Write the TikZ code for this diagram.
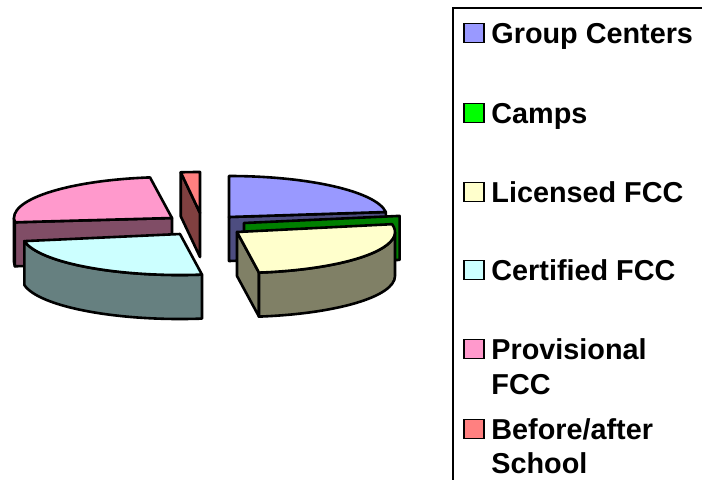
\documentclass[tikz,border=0pt]{standalone}
\usepackage{fontspec}
\setmainfont{Liberation Sans}
\usetikzlibrary{positioning,calc}

\definecolor{gcTop}{HTML}{9999FF}
\definecolor{gcSide}{HTML}{4D4D80}
\definecolor{campTop}{HTML}{00FF00}
\definecolor{campSide}{HTML}{008000}
\definecolor{licTop}{HTML}{FFFFCC}
\definecolor{licSide}{HTML}{808066}
\definecolor{certTop}{HTML}{CCFFFF}
\definecolor{certSide}{HTML}{668080}
\definecolor{provTop}{HTML}{FF99CC}
\definecolor{provSide}{HTML}{804D66}
\definecolor{basTop}{HTML}{FF8080}
\definecolor{basSide}{HTML}{804040}

\tikzset{
  piepart/.style={draw=black, line width=1.3pt, line join=round},
  swatch/.style={draw=black, line width=0.8pt, minimum width=10pt, minimum height=9.5pt, inner sep=0pt, anchor=west},
  legtext/.style={font=\fontsize{14.4}{17}\selectfont\bfseries, inner sep=0pt, anchor=base west},
}

\begin{document}
\begin{tikzpicture}[x=0.5pt,y=0.5pt]
            \useasboundingbox (0,0) rectangle (702,479);

            \def \rx{158};
            \def \ry{41};
            \def \dep{44};

            \coordinate (gc) at (229,262);
            \coordinate (camp) at (244,256);
            \coordinate (lic) at (237,247);
            \coordinate (cert) at (180,245);
            \coordinate (prov) at (172,261);
            \coordinate (bas) at (200,266);

            % before/after school
            \draw[piepart, fill=basSide] (bas) -- ++({\rx*cos(97)},{\ry*sin(97)}) -- ++(0,-\dep) -- ($(bas)+(0,-\dep)$) -- cycle;
            \draw[piepart, fill=basTop] (bas) -- ++({\rx*cos(90)},{\ry*sin(90)}) arc[start angle=90, end angle=97, x radius=\rx, y radius=\ry] -- cycle;

            % provisional FCC
            \draw[piepart, fill=provSide] (prov) ++(-\rx,0) arc[start angle=180, end angle=186, x radius=\rx, y radius=\ry] -- ++(0,-\dep) arc[start angle=186, end angle=180, x radius=\rx, y radius=\ry] -- cycle;
            \draw[piepart, fill=provSide] (prov) -- ++({\rx*cos(186)},{\ry*sin(186)}) -- ++(0,-\dep) -- ($(prov)+(0,-\dep)$) -- cycle;
            \draw[piepart, fill=provTop] (prov) -- ++({\rx*cos(98)},{\ry*sin(98)}) arc[start angle=98, end angle=186, x radius=\rx, y radius=\ry] -- cycle;

            % group centers
            \draw[piepart, fill=gcSide] (gc) -- ++({\rx*cos(7)},{\ry*sin(7)}) -- ++(0,-\dep) -- ($(gc)+(0,-\dep)$) -- cycle;
            \draw[piepart, fill=gcTop] (gc) -- ++({\rx*cos(7)},{\ry*sin(7)}) arc[start angle=7, end angle=90, x radius=\rx, y radius=\ry] -- cycle;

            % camps
            \draw[piepart, fill=campSide] (camp) -- ++({\rx*cos(10)},{\ry*sin(10)}) -- ++(0,-\dep) -- ($(camp)+(0,-\dep)$) -- cycle;

            % certified FCC
            \draw[piepart, fill=certSide] (cert) ++({\rx*cos(190)},{\ry*sin(190)}) arc[start angle=190, end angle=278, x radius=\rx, y radius=\ry] -- ++(0,-\dep) arc[start angle=278, end angle=190, x radius=\rx, y radius=\ry] -- cycle;
            \draw[piepart, fill=certTop] (cert) -- ++({\rx*cos(190)},{\ry*sin(190)}) arc[start angle=190, end angle=278, x radius=\rx, y radius=\ry] -- cycle;

            % licensed FCC
            \draw[piepart, fill=licSide] (lic) -- ++({\rx*cos(-82)},{\ry*sin(-82)}) -- ++(0,-\dep) -- ($(lic)+(0,-\dep)$) -- cycle;
            \draw[piepart, fill=licSide] (lic) ++({\rx*cos(-82)},{\ry*sin(-82)}) arc[start angle=-82, end angle=0, x radius=\rx, y radius=\ry] -- ++(0,-\dep) arc[start angle=0, end angle=-82, x radius=\rx, y radius=\ry] -- cycle;
            \draw[piepart, fill=licTop] (lic) -- ++({\rx*cos(-82)},{\ry*sin(-82)}) arc[start angle=-82, end angle=11, x radius=\rx, y radius=\ry] -- cycle;

            % legend
            \begin{scope}
                \clip (0,0) rectangle (702,479);
                \draw[line width=1pt] (453,-10) rectangle (720,471);
            \end{scope}
            \foreach \nm/\col/\yc/\txt in {gc/gcTop/446/Group Centers, camp/campTop/366/Camps, lic/licTop/287/Licensed FCC, cert/certTop/209/Certified FCC, prov/provTop/130/Provisional, bas/basTop/50/{Before/after}} {
                \node[swatch, fill=\col] (sw\nm) at (463,\yc) {};
                \node[legtext] (lab\nm) at (491,\yc-10) {\txt};
            }
            \node[legtext, below=17.5pt of labprov.base west, anchor=base west] (labprovb) {FCC};
            \node[legtext, below=17pt of labbas.base west, anchor=base west] (labbasb) {School};

\end{tikzpicture}
\end{document}
